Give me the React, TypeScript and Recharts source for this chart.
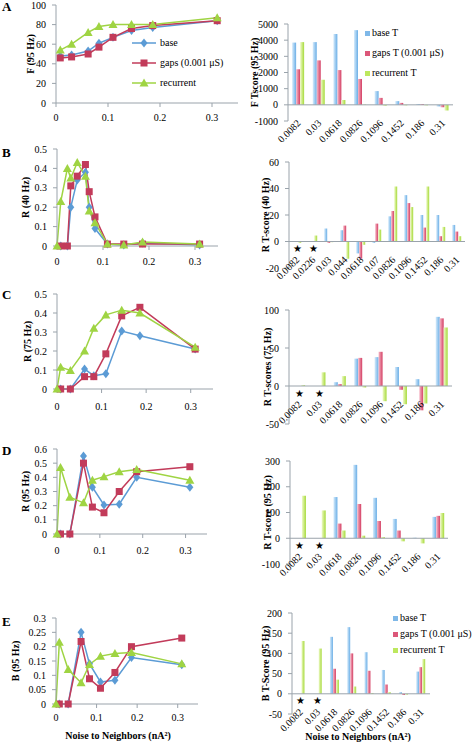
import React from 'react';
import { LineChart, Line, BarChart, Bar, XAxis, YAxis, ReferenceLine } from 'recharts';

const FONT = '"Liberation Serif", "Times New Roman", serif';
const AXIS = '#9aa3ab';
const BLUE = '#5b9bd5';
const RED = '#c23b5a';
const GREEN = '#9fd443';

// noise to neighbors (nA^2)
const noiseA = [0.0082, 0.03, 0.0618, 0.0826, 0.1096, 0.1452, 0.186, 0.31];
const noiseB = [0, 0.0082, 0.0226, 0.03, 0.044, 0.0618, 0.07, 0.0826, 0.1096, 0.1452, 0.186, 0.31];
const noiseCDE = [0, 0.0082, 0.03, 0.0618, 0.0826, 0.1096, 0.1452, 0.186, 0.31];
const noiseTicks = [0, 0.1, 0.2, 0.3];

// A: F (95 Hz)
const fBase = [48, 49, 53, 61, 67, 74, 77, 84];
const fGaps = [46, 47, 50, 57, 67, 76, 79, 84];
const fRec = [54, 60, 72, 78, 80, 80, 80, 87];

// B: R (40 Hz)
const r40Base = [null, 0, 0, 0.2, 0.34, 0.38, 0.2, 0.09, 0.01, 0.005, 0.015, 0.005];
const r40Gaps = [null, 0, 0, 0.31, 0.36, 0.42, 0.28, 0.15, 0.01, 0.01, 0.01, 0.01];
const r40Rec = [0, 0.23, 0.4, 0.35, 0.43, 0.36, 0.18, 0.12, 0.01, 0.005, 0.02, 0.01];

// C: R (75 Hz)
const r75Base = [null, 0, 0, 0.105, 0.07, 0.08, 0.305, 0.28, 0.21];
const r75Gaps = [null, 0, 0, 0.065, 0.065, 0.185, 0.385, 0.43, 0.21];
const r75Rec = [0, 0.115, 0.098, 0.2, 0.32, 0.39, 0.415, 0.4, 0.22];

// D: R (95 Hz)
const r95Base = [null, 0, 0, 0.55, 0.33, 0.205, 0.21, 0.4, 0.33];
const r95Gaps = [null, 0, 0, 0.5, 0.19, 0.15, 0.3, 0.44, 0.475];
const r95Rec = [0, 0.47, 0.26, 0.22, 0.38, 0.405, 0.44, 0.455, 0.38];

// E: B (95 Hz)
const b95Base = [null, 0, 0, 0.25, 0.14, 0.077, 0.083, 0.162, 0.137];
const b95Gaps = [null, 0, 0, 0.218, 0.088, 0.055, 0.11, 0.2, 0.23];
const b95Rec = [0, 0.215, 0.12, 0.074, 0.138, 0.167, 0.176, 0.18, 0.14];

// T-score categories
const catsA = ['0.0082', '0.03', '0.0618', '0.0826', '0.1096', '0.1452', '0.186', '0.31'];
const catsB = ['0.0082', '0.0226', '0.03', '0.044', '0.0618', '0.07', '0.0826', '0.1096', '0.1452', '0.186', '0.31'];
const starsB = ['0.0082', '0.0226'];
const starsCDE = ['0.0082', '0.03'];

const fTBase = [3850, 3880, 4380, 4620, 850, 230, 50, -100];
const fTGaps = [2200, 2750, 2150, 1600, 430, 120, 50, -150];
const fTRec = [3880, 1550, 300, 20, -50, -30, -30, -350];

const rT40Base = [0, 0, 9.8, 8.5, -9, -1, 19, 35, 20, 20, 12.5];
const rT40Gaps = [0, 0, -1, 12, -13, 13.5, 23, 29, 10.5, 4, 7.5];
const rT40Rec = [-1, 4.5, -0.5, -13, -2.5, 9, 41.5, 26, 41.5, 11, 4];

const rT75Base = [0, 0, 5, 36, 38, 25, 9, 91];
const rT75Gaps = [0, 0, 2.5, 37, 45, -5, -32, 89];
const rT75Rec = [1, 18, 13, -2, -20, -24, -23, 77];

const rT95Base = [0, 0, 160, 285, 157, 75, 2, 83];
const rT95Gaps = [0, 0, 57, 133, 67, 30, 0, 87];
const rT95Rec = [165, 108, 30, 10, 4, -12, -20, 98];

const bT95Base = [0, 0, 141, 165, 103, 59, 4, 55];
const bT95Gaps = [0, 0, 62, 100, 57, 23, -3, 66];
const bT95Rec = [131, 112, 35, 18, 2, 4, -2, 86];

const rows = (keys: any[], b: any[], g: any[], r: any[]) =>
  keys.map((k, i) => ({ x: k, base: b[i], gaps: g[i], rec: r[i] }));

const tickStyle = { fill: '#000', fontSize: 10, fontFamily: FONT };
const titleStyle = { textAnchor: 'middle', fontWeight: 'bold', fontSize: 10, fontFamily: FONT, fill: '#000' } as any;

const diamond = (p: any) =>
  p.cy == null || p.value == null ? (
    <g key={`d${p.index}`} />
  ) : (
    <polygon
      key={`d${p.index}`}
      points={`${p.cx},${p.cy - 4.5} ${p.cx + 3.5},${p.cy} ${p.cx},${p.cy + 4.5} ${p.cx - 3.5},${p.cy}`}
      fill={BLUE}
    />
  );
const square = (p: any) =>
  p.cy == null || p.value == null ? (
    <g key={`s${p.index}`} />
  ) : (
    <rect key={`s${p.index}`} x={p.cx - 3.5} y={p.cy - 3.5} width={7} height={7} fill={RED} />
  );
const triangle = (p: any) =>
  p.cy == null || p.value == null ? (
    <g key={`t${p.index}`} />
  ) : (
    <polygon
      key={`t${p.index}`}
      points={`${p.cx},${p.cy - 4.5} ${p.cx + 4.5},${p.cy + 3.5} ${p.cx - 4.5},${p.cy + 3.5}`}
      fill={GREEN}
    />
  );

function LinePanel({ data, plot, domain, ticks, title, titleX, gap }: any) {
  const [l, t, r, b] = plot;
  return (
    <div style={{ position: 'absolute', left: 0, top: t - 8 }}>
      <LineChart width={r + 10} height={b - t + 38} data={data} margin={{ top: 8, right: 10, left: 0, bottom: 0 }}>
        <XAxis
          type="number"
          dataKey="x"
          domain={[0, 0.35]}
          ticks={noiseTicks}
          interval={0}
          height={30}
          tickSize={4}
          tickMargin={gap - 8}
          stroke={AXIS}
          tick={tickStyle}
        />
        <YAxis
          width={l}
          domain={domain}
          ticks={ticks}
          interval={0}
          tickSize={4}
          tickMargin={6}
          stroke={AXIS}
          tick={tickStyle}
          label={{ value: title, angle: -90, position: 'insideLeft', offset: titleX, style: titleStyle }}
        />
        <Line dataKey="base" stroke={BLUE} strokeWidth={1.5} dot={diamond} activeDot={false} isAnimationActive={false} />
        <Line dataKey="gaps" stroke={RED} strokeWidth={1.5} dot={square} activeDot={false} isAnimationActive={false} />
        <Line dataKey="rec" stroke={GREEN} strokeWidth={1.5} dot={triangle} activeDot={false} isAnimationActive={false} />
      </LineChart>
    </div>
  );
}

function CatTick({ x, y, payload, shift, stars }: any) {
  const zy = y - shift;
  return (
    <g>
      <text
        x={x + 3}
        y={zy + 19}
        textAnchor="end"
        transform={`rotate(-45 ${x + 3} ${zy + 19})`}
        fontSize={10}
        fontFamily={FONT}
        fill="#000"
      >
        {payload.value}
      </text>
      {stars.includes(payload.value) && (
        <text x={x} y={zy + 7} textAnchor="middle" dominantBaseline="central" fontSize={10} fill="#000">
          ★
        </text>
      )}
    </g>
  );
}

function BarPanel({ id, data, plot, domain, ticks, title, titleX, stars }: any) {
  const [l, t, r, b] = plot;
  const left = 240;
  const shift = ((0 - domain[0]) / (domain[1] - domain[0])) * (b - t);
  return (
    <div style={{ position: 'absolute', left, top: t - 8 }}>
      <BarChart
        width={r + 6 - left}
        height={b - t + 48}
        data={data}
        margin={{ top: 8, right: 6, left: 0, bottom: 0 }}
        barCategoryGap="20%"
        barGap={0}
      >
        <defs>
          <linearGradient id={`${id}b`} x1="0" y1="0" x2="1" y2="0">
            <stop offset="0%" stopColor="#d6ebfb" />
            <stop offset="100%" stopColor="#6aaee6" />
          </linearGradient>
          <linearGradient id={`${id}g`} x1="0" y1="0" x2="1" y2="0">
            <stop offset="0%" stopColor="#f6b8c7" />
            <stop offset="100%" stopColor="#d43e63" />
          </linearGradient>
          <linearGradient id={`${id}r`} x1="0" y1="0" x2="1" y2="0">
            <stop offset="0%" stopColor="#effac9" />
            <stop offset="100%" stopColor="#a6da3a" />
          </linearGradient>
        </defs>
        <XAxis
          dataKey="x"
          height={40}
          axisLine={false}
          tickLine={false}
          tickSize={0}
          tickMargin={0}
          interval={0}
          tick={<CatTick shift={shift} stars={stars} />}
        />
        <YAxis
          width={l - left}
          domain={domain}
          ticks={ticks}
          interval={0}
          tickSize={4}
          tickMargin={6}
          stroke={AXIS}
          tick={tickStyle}
          label={{ value: title, angle: -90, position: 'insideLeft', offset: titleX - left, style: titleStyle }}
        />
        <ReferenceLine y={0} stroke={AXIS} />
        <Bar dataKey="base" fill={`url(#${id}b)`} isAnimationActive={false} />
        <Bar dataKey="gaps" fill={`url(#${id}g)`} isAnimationActive={false} />
        <Bar dataKey="rec" fill={`url(#${id}r)`} isAnimationActive={false} />
      </BarChart>
    </div>
  );
}

const lineLegend = [
  { name: 'base', color: BLUE, mark: diamond },
  { name: 'gaps (0.001 μS)', color: RED, mark: square },
  { name: 'recurrent', color: GREEN, mark: triangle },
];
const barLegend = [
  { name: 'base T', color: '#7fb8e8' },
  { name: 'gaps T (0.001 μS)', color: '#dc5779' },
  { name: 'recurrent T', color: '#bde85e' },
];

const txt = { fontFamily: FONT, fontSize: 10, color: '#000', lineHeight: '12px', whiteSpace: 'nowrap' } as any;

function LineLegend({ left, tops }: any) {
  return (
    <>
      {lineLegend.map((s, i) => (
        <div key={s.name} style={{ position: 'absolute', left, top: tops[i] - 6, display: 'flex', alignItems: 'center', ...txt }}>
          <svg width={24} height={12} style={{ marginRight: 4 }}>
            <line x1={0} y1={6} x2={24} y2={6} stroke={s.color} strokeWidth={1.5} />
            {s.mark({ cx: 12, cy: 6, index: i, value: 1 })}
          </svg>
          <span>{s.name}</span>
        </div>
      ))}
    </>
  );
}

function BarLegend({ left, tops }: any) {
  return (
    <>
      {barLegend.map((s, i) => (
        <div key={s.name} style={{ position: 'absolute', left, top: tops[i] - 6, display: 'flex', alignItems: 'center', ...txt }}>
          <span style={{ width: 5, height: 5, background: s.color, marginRight: 2, display: 'inline-block' }} />
          <span>{s.name}</span>
        </div>
      ))}
    </>
  );
}

const letter = (ch: string, top: number) => (
  <div style={{ position: 'absolute', left: 2, top, fontFamily: FONT, fontWeight: 'bold', fontSize: 13, lineHeight: '13px' }}>{ch}</div>
);

const xTitle = (cx: number, cy: number) => (
  <div
    style={{
      position: 'absolute',
      left: cx - 70,
      width: 140,
      top: cy - 6,
      textAlign: 'center',
      fontFamily: FONT,
      fontWeight: 'bold',
      fontSize: 10,
      lineHeight: '12px',
    }}
  >
    Noise to Neighbors (nA²)
  </div>
);

export default function App() {
  return (
    <div style={{ position: 'absolute', left: 0, top: 0, width: 475, height: 743, background: '#fff', overflow: 'hidden' }}>
      {letter('A', 0)}
      {letter('B', 146)}
      {letter('C', 288)}
      {letter('D', 444)}
      {letter('E', 615)}

      <LinePanel data={rows(noiseA, fBase, fGaps, fRec)} plot={[56, 5, 238, 103]} domain={[0, 100]} ticks={[0, 20, 40, 60, 80, 100]} title="F (95 Hz)" titleX={30} gap={15} />
      <LinePanel data={rows(noiseB, r40Base, r40Gaps, r40Rec)} plot={[57, 149, 218, 246]} domain={[0, 0.5]} ticks={[0, 0.1, 0.2, 0.3, 0.4, 0.5]} title="R (40 Hz)" titleX={25} gap={16} />
      <LinePanel data={rows(noiseCDE, r75Base, r75Gaps, r75Rec)} plot={[57, 294, 213, 389]} domain={[0, 0.5]} ticks={[0, 0.1, 0.2, 0.3, 0.4, 0.5]} title="R (75 Hz)" titleX={27} gap={18} />
      <LinePanel data={rows(noiseCDE, r95Base, r95Gaps, r95Rec)} plot={[57, 449, 207, 534]} domain={[0, 0.6]} ticks={[0, 0.1, 0.2, 0.3, 0.4, 0.5, 0.6]} title="R (95 Hz)" titleX={25} gap={17} />
      <LinePanel data={rows(noiseCDE, b95Base, b95Gaps, b95Rec)} plot={[56, 618, 198, 704]} domain={[0, 0.3]} ticks={[0, 0.05, 0.1, 0.15, 0.2, 0.25, 0.3]} title="B (95 Hz)" titleX={15} gap={14} />

      <BarPanel id="ga" data={rows(catsA, fTBase, fTGaps, fTRec)} plot={[288, 24, 453, 121]} domain={[-1000, 5000]} ticks={[-1000, 0, 1000, 2000, 3000, 4000, 5000]} title="F Tscore (95 Hz)" titleX={254} stars={[]} />
      <BarPanel id="gb" data={rows(catsB, rT40Base, rT40Gaps, rT40Rec)} plot={[289, 162, 465, 268]} domain={[-20, 60]} ticks={[-20, 0, 20, 40, 60]} title="R T-score (40 Hz)" titleX={265} stars={starsB} />
      <BarPanel id="gc" data={rows(catsA, rT75Base, rT75Gaps, rT75Rec)} plot={[289, 310, 452, 424]} domain={[-50, 100]} ticks={[-50, 0, 50, 100]} title="R T-scores (75 Hz)" titleX={267} stars={starsCDE} />
      <BarPanel id="gd" data={rows(catsA, rT95Base, rT95Gaps, rT95Rec)} plot={[290, 461, 448, 564]} domain={[-100, 300]} ticks={[-100, 0, 100, 200, 300]} title="R T-score (95 Hz)" titleX={267} stars={starsCDE} />
      <BarPanel id="ge" data={rows(catsA, bT95Base, bT95Gaps, bT95Rec)} plot={[292, 613, 430, 714]} domain={[-50, 200]} ticks={[-50, 0, 50, 100, 150, 200]} title="B  T-Score (95 Hz)" titleX={265} stars={starsCDE} />

      <LineLegend left={132} tops={[43, 63, 83]} />
      <BarLegend left={365} tops={[33, 53, 73]} />
      <BarLegend left={393} tops={[618, 634, 650]} />

      {xTitle(118, 736)}
      {xTitle(358, 737)}
    </div>
  );
}
